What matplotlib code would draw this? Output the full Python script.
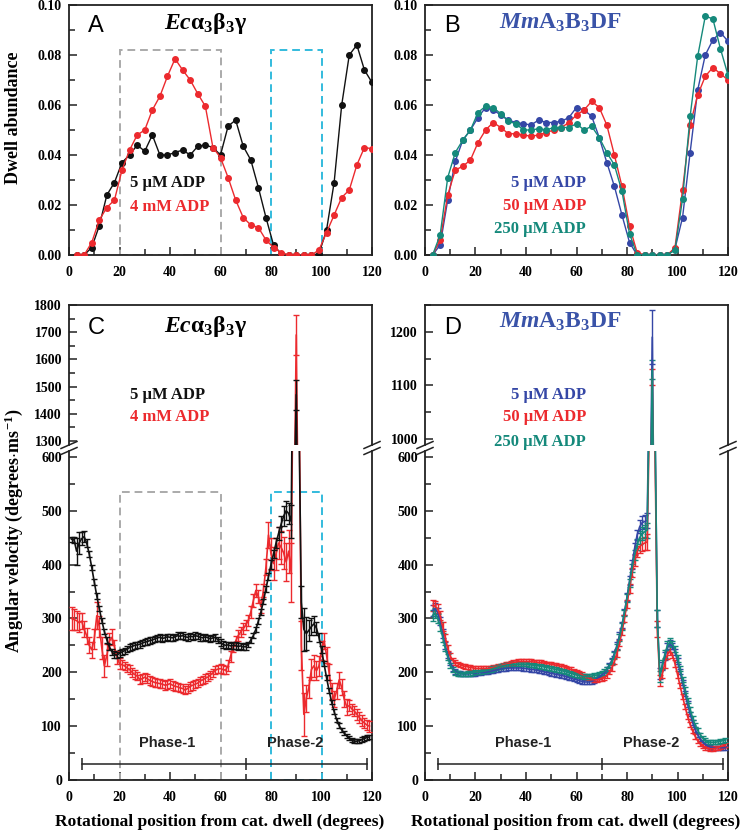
import numpy as np
import matplotlib
matplotlib.use("Agg")
import matplotlib.pyplot as plt
from matplotlib.ticker import MultipleLocator, FormatStrFormatter
from matplotlib.patches import Rectangle

plt.rcParams['font.family'] = ['Liberation Serif', 'DejaVu Serif']
plt.rcParams['font.weight'] = 'bold'
plt.rcParams['mathtext.fontset'] = 'custom'
plt.rcParams['mathtext.rm'] = 'Liberation Serif:bold'
plt.rcParams['mathtext.it'] = 'Liberation Serif:italic:bold'
plt.rcParams['mathtext.bf'] = 'Liberation Serif:bold'

# ---- colours
BLACK = '#111111'
RED = '#ec2a2e'
BLUE = '#3547a6'
TEAL = '#15897b'
TITLE_BLUE = '#3a53a8'

# ---- panel A / B : dwell abundance, every 3 degrees
dwell_x = np.arange(3, 121, 3)
dwell_ec_5uM = [0, 0, 0.003, 0.0117, 0.024, 0.029, 0.037, 0.040, 0.044, 0.0415,
                0.048, 0.040, 0.040, 0.041, 0.042, 0.040, 0.0435, 0.044, 0.043, 0.040,
                0.0515, 0.054, 0.0435, 0.038, 0.027, 0.015, 0.004, 0.0005, 0, 0,
                0, 0, 0.0005, 0.010, 0.029, 0.060, 0.080, 0.084, 0.074, 0.069]
dwell_ec_4mM = [0, 0, 0.005, 0.014, 0.019, 0.022, 0.034, 0.042, 0.048, 0.050,
                0.058, 0.0635, 0.0715, 0.0785, 0.074, 0.070, 0.0645, 0.0595, 0.043, 0.039,
                0.031, 0.022, 0.015, 0.012, 0.011, 0.006, 0.003, 0.001, 0, 0,
                0, 0, 0.002, 0.009, 0.016, 0.023, 0.026, 0.036, 0.043, 0.0425]
dwell_mm_5uM = [0, 0.004, 0.022, 0.0375, 0.046, 0.050, 0.055, 0.059, 0.058, 0.056,
                0.054, 0.053, 0.0525, 0.052, 0.054, 0.053, 0.053, 0.0535, 0.055, 0.059,
                0.058, 0.0555, 0.047, 0.037, 0.0275, 0.016, 0.005, 0, 0, 0,
                0, 0, 0.0025, 0.015, 0.041, 0.066, 0.080, 0.086, 0.089, 0.0855]
dwell_mm_50uM = [0, 0.006, 0.024, 0.034, 0.0355, 0.038, 0.045, 0.050, 0.053, 0.051,
                 0.0485, 0.0485, 0.048, 0.0475, 0.048, 0.049, 0.050, 0.051, 0.053, 0.056,
                 0.058, 0.0615, 0.059, 0.052, 0.040, 0.0275, 0.0115, 0.001, 0, 0,
                 0, 0, 0.003, 0.026, 0.052, 0.064, 0.0715, 0.075, 0.0725, 0.070]
dwell_mm_250uM = [0, 0.008, 0.031, 0.041, 0.046, 0.050, 0.057, 0.0595, 0.059, 0.0565,
                  0.0535, 0.0525, 0.050, 0.050, 0.0505, 0.050, 0.051, 0.051, 0.051, 0.0525,
                  0.050, 0.0515, 0.047, 0.041, 0.036, 0.0255, 0.0085, 0, 0, 0,
                  0, 0, 0.002, 0.0225, 0.0555, 0.0795, 0.0955, 0.0945, 0.0825, 0.072]

# ---- panel C : angular velocity Ec, every degree 1..119
vel_ec_x = np.arange(1, 120)
vel_ec_5uM = [447, 446, 425, 440, 448, 452, 440, 420, 395, 368,
              342, 318, 296, 276, 260, 247, 238, 233, 232, 235,
              238, 240, 243, 246, 248, 250, 251, 252, 254, 256,
              257, 259, 260, 262, 264, 265, 263, 264, 266, 265,
              264, 266, 268, 267, 268, 266, 265, 267, 266, 268,
              267, 265, 264, 266, 264, 262, 264, 265, 260, 255,
              252, 250, 251, 249, 250, 250, 248, 249, 247, 248,
              252, 260, 268, 280, 295, 312, 332, 355, 378, 400,
              420, 440, 458, 475, 490, 500, 495, 480, 1000, 1470,
              700, 330, 280, 272, 278, 285, 290, 282, 265, 242,
              216, 190, 166, 145, 127, 112, 101, 93, 87, 82,
              78, 74, 72, 72, 73, 75, 77, 79, 80]
vel_ec_5uM_err = [5, 5, 25, 20, 12, 10, 8, 5, 5, 5,
                  5, 5, 5, 5, 5, 5, 5, 6, 6, 6,
                  6, 6, 6, 6, 6, 6, 6, 6, 6, 6,
                  6, 6, 6, 6, 6, 6, 6, 6, 6, 6,
                  6, 6, 6, 6, 6, 6, 6, 6, 6, 6,
                  6, 6, 6, 6, 6, 6, 6, 6, 6, 6,
                  6, 6, 6, 6, 6, 6, 6, 6, 6, 6,
                  5, 5, 5, 5, 5, 5, 5, 6, 6, 8,
                  8, 10, 12, 15, 18, 18, 20, 30, 40, 55,
                  40, 30, 40, 30, 20, 15, 15, 12, 8, 6,
                  5, 5, 5, 4, 4, 4, 4, 4, 4, 4,
                  4, 4, 4, 4, 4, 4, 4, 4, 4]
vel_ec_4mM = [300, 298, 296, 292, 295, 280, 268, 250, 242, 262,
              305, 285, 245, 212, 232, 258, 265, 248, 228, 216,
              214, 212, 208, 205, 200, 196, 193, 187, 188, 191,
              188, 185, 183, 181, 180, 179, 178, 176, 177, 179,
              176, 174, 173, 171, 170, 167, 170, 174, 176, 178,
              180, 184, 186, 189, 191, 195, 199, 204, 206, 207,
              205, 204, 212, 230, 247, 258, 268, 275, 281, 288,
              296, 312, 333, 352, 340, 322, 352, 395, 455, 420,
              402, 420, 440, 432, 422, 405, 425, 385, 900, 1690,
              800, 250, 122, 152, 172, 205, 212, 203, 212, 240,
              258, 232, 200, 165, 150, 165, 186, 172, 150, 136,
              138, 132, 128, 122, 116, 110, 106, 102, 100]
vel_ec_4mM_err = [22, 20, 18, 18, 15, 15, 15, 15, 15, 18,
                  25, 20, 20, 20, 20, 15, 15, 12, 12, 10,
                  8, 8, 8, 8, 8, 8, 8, 8, 8, 8,
                  8, 8, 8, 8, 8, 8, 8, 8, 8, 8,
                  8, 8, 8, 8, 8, 8, 8, 8, 8, 8,
                  8, 8, 8, 8, 8, 8, 8, 8, 8, 8,
                  8, 8, 10, 10, 10, 10, 10, 10, 10, 10,
                  10, 12, 12, 12, 12, 12, 12, 15, 25, 30,
                  30, 30, 30, 30, 30, 35, 40, 55, 60, 75,
                  60, 45, 40, 25, 20, 20, 20, 18, 18, 18,
                  15, 15, 15, 15, 15, 15, 15, 15, 15, 15,
                  10, 10, 10, 10, 10, 10, 10, 10, 10]

# ---- panel D : angular velocity Mm, every degree 3..119
vel_mm_x = np.arange(3, 120)
vel_mm_5uM = [315, 318, 312, 295, 272, 250, 232, 218,
              208, 202, 199, 198, 197, 197, 197, 198, 198, 198,
              199, 199, 200, 200, 201, 202, 203, 204, 205, 206,
              207, 207, 208, 208, 208, 208, 208, 208, 207, 207,
              206, 205, 205, 204, 203, 202, 201, 200, 199, 198,
              197, 196, 195, 194, 193, 192, 190, 189, 187, 186,
              185, 183, 182, 182, 182, 183, 185, 188, 191, 195,
              199, 205, 214, 222, 235, 250, 268, 288, 312, 340,
              370, 400, 430, 455, 470, 478, 480, 482, 800, 1190,
              700, 300, 198, 212, 230, 246, 252, 249, 238, 221,
              201, 181, 161, 141, 123, 107, 94, 84, 76, 70,
              66, 63, 61, 60, 60, 60, 60, 60, 60]
vel_mm_5uM_err = [10, 10, 8, 8, 8, 6, 6, 5,
                  5, 5, 4, 4, 4, 4, 4, 4, 4, 4,
                  4, 4, 4, 4, 4, 4, 4, 4, 4, 4,
                  4, 4, 4, 4, 4, 4, 4, 4, 4, 4,
                  4, 4, 4, 4, 4, 4, 4, 4, 4, 4,
                  4, 4, 4, 4, 4, 4, 4, 4, 4, 4,
                  4, 4, 4, 4, 4, 4, 4, 4, 4, 4,
                  4, 4, 4, 5, 5, 6, 6, 6, 6, 8,
                  8, 8, 10, 10, 12, 12, 12, 14, 30, 50,
                  30, 15, 10, 8, 8, 8, 8, 6, 6, 6,
                  5, 5, 5, 5, 4, 4, 4, 4, 4, 4,
                  4, 4, 4, 4, 4, 4, 4, 4, 4]
vel_mm_50uM = [324, 323, 318, 305, 285, 265, 245, 230,
               222, 218, 216, 214, 212, 211, 210, 209, 208, 207,
               207, 207, 207, 207, 207, 208, 209, 210, 211, 212,
               214, 215, 216, 217, 218, 219, 220, 220, 220, 220,
               220, 220, 219, 219, 218, 218, 217, 216, 216, 215,
               214, 213, 212, 211, 210, 208, 206, 205, 203, 201,
               199, 196, 193, 191, 189, 187, 186, 186, 187, 188,
               190, 194, 200, 208, 220, 235, 254, 275, 300, 327,
               356, 385, 408, 425, 433, 438, 440, 442, 700, 1115,
               650, 280, 185, 198, 216, 233, 240, 232, 216, 196,
               175, 155, 136, 118, 103, 91, 81, 73, 67, 63,
               60, 59, 58, 58, 59, 60, 62, 63, 65]
vel_mm_50uM_err = [10, 10, 8, 8, 8, 6, 6, 5,
                   5, 5, 4, 4, 4, 4, 4, 4, 4, 4,
                   4, 4, 4, 4, 4, 4, 4, 4, 4, 4,
                   4, 4, 4, 4, 4, 4, 4, 4, 4, 4,
                   4, 4, 4, 4, 4, 4, 4, 4, 4, 4,
                   4, 4, 4, 4, 4, 4, 4, 4, 4, 4,
                   4, 4, 4, 4, 4, 4, 4, 4, 4, 4,
                   4, 4, 4, 5, 5, 6, 6, 6, 6, 8,
                   8, 8, 10, 10, 12, 12, 12, 14, 20, 15,
                   20, 15, 10, 8, 8, 8, 8, 6, 6, 6,
                   5, 5, 5, 5, 4, 4, 4, 4, 4, 4,
                   4, 4, 4, 4, 4, 4, 4, 4, 4]
vel_mm_250uM = [305, 310, 300, 285, 265, 245, 228, 213,
                205, 200, 198, 197, 197, 197, 198, 198, 199, 200,
                200, 201, 202, 203, 204, 205, 207, 208, 210, 211,
                212, 213, 214, 214, 215, 215, 215, 215, 215, 215,
                214, 214, 213, 212, 212, 211, 210, 209, 208, 207,
                206, 205, 204, 203, 202, 201, 199, 198, 196, 195,
                194, 193, 192, 192, 192, 193, 194, 195, 197, 199,
                202, 206, 212, 220, 232, 247, 265, 285, 310, 338,
                366, 394, 418, 437, 450, 457, 461, 464, 750, 1130,
                700, 300, 192, 214, 234, 250, 256, 253, 243, 226,
                207, 187, 167, 148, 131, 115, 102, 92, 84, 78,
                74, 71, 70, 70, 70, 71, 72, 73, 74]
vel_mm_250uM_err = [10, 10, 8, 8, 8, 6, 6, 5,
                    5, 5, 4, 4, 4, 4, 4, 4, 4, 4,
                    4, 4, 4, 4, 4, 4, 4, 4, 4, 4,
                    4, 4, 4, 4, 4, 4, 4, 4, 4, 4,
                    4, 4, 4, 4, 4, 4, 4, 4, 4, 4,
                    4, 4, 4, 4, 4, 4, 4, 4, 4, 4,
                    4, 4, 4, 4, 4, 4, 4, 4, 4, 4,
                    4, 4, 4, 5, 5, 6, 6, 6, 6, 8,
                    8, 8, 10, 10, 12, 12, 12, 14, 20, 18,
                    20, 15, 10, 8, 8, 8, 8, 6, 6, 6,
                    5, 5, 5, 5, 4, 4, 4, 4, 4, 4,
                    4, 4, 4, 4, 4, 4, 4, 4, 4]

# phase annotation and highlighted windows
phase_edges = [5, 70, 118]
phase_names = ['Phase-1', 'Phase-2']
phase_label_x = [39, 89.5]
window_grey = (20, 60)
window_cyan = (80, 100)

# ---- figure layout (pixel boxes)
W, H = 745, 834
fig = plt.figure(figsize=(W / 100, H / 100), dpi=100)


def box(l, t, r, b):
    return [l / W, 1 - b / H, (r - l) / W, (b - t) / H]


axA = fig.add_axes(box(69, 5, 372, 255))
axB = fig.add_axes(box(425, 5, 728, 255))
axCu = fig.add_axes(box(69, 305, 372, 445))
axCl = fig.add_axes(box(69, 451, 372, 780))
axDu = fig.add_axes(box(425, 305, 728, 445))
axDl = fig.add_axes(box(425, 451, 728, 780))


def style(ax, ymaj, ymin):
    ax.set_xlim(0, 120)
    ax.xaxis.set_major_locator(MultipleLocator(20))
    ax.xaxis.set_minor_locator(MultipleLocator(10))
    ax.yaxis.set_major_locator(MultipleLocator(ymaj))
    ax.yaxis.set_minor_locator(MultipleLocator(ymin))
    ax.tick_params(which='both', direction='in', top=False, right=False,
                   labelsize=10, width=1.1, color='#222222')
    ax.tick_params(which='major', length=6)
    ax.tick_params(which='minor', length=4)
    ax.tick_params(axis='x', pad=8)
    ax.tick_params(axis='y', pad=5)
    for s in ax.spines.values():
        s.set_linewidth(1.3)
        s.set_color('#222222')


for ax in (axA, axB):
    style(ax, 0.02, 0.01)
    ax.set_ylim(0, 0.10)
    ax.yaxis.set_major_formatter(FormatStrFormatter('%.2f'))

for ax in (axCu, axCl, axDu, axDl):
    style(ax, 100, 50)

axCu.set_ylim(1285, 1800)
axDu.set_ylim(989, 1250)
axCl.set_ylim(0, 611)
axDl.set_ylim(0, 611)

for ax in (axCu, axDu):
    ax.spines['bottom'].set_visible(False)
    ax.tick_params(axis='x', which='both', bottom=False, labelbottom=False)
for ax in (axCl, axDl):
    ax.spines['top'].set_visible(False)


def breaks(ax_up, ax_lo):
    for ax, y in ((ax_up, 0), (ax_lo, 1)):
        bb = ax.get_position()
        dx = 8 / (bb.width * W)
        dy = 3.5 / (bb.height * H)
        for x in (0, 1):
            ax.plot([x - dx, x + dx], [y - dy, y + dy], transform=ax.transAxes,
                    color='#222222', lw=1.1, clip_on=False)


breaks(axCu, axCl)
breaks(axDu, axDl)

# ---- panel A
axA.plot(dwell_x, dwell_ec_5uM, '-o', color=BLACK, lw=1, ms=4, zorder=3)
axA.plot(dwell_x, dwell_ec_4mM, '-o', color=RED, lw=1, ms=4, zorder=3)

# ---- panel B
for vals, col in ((dwell_mm_5uM, BLUE), (dwell_mm_50uM, RED), (dwell_mm_250uM, TEAL)):
    axB.plot(dwell_x, vals, '-o', color=col, lw=1, ms=4, zorder=3)

# dashed windows in A and C
for ax, top in ((axA, 0.082), (axCl, 535)):
    for (x0, x1), col in ((window_grey, '#aaaaaa'), (window_cyan, '#33bbdd')):
        ax.add_patch(Rectangle((x0, 0), x1 - x0, top, fill=False, ec=col,
                               lw=1.4, ls=(0, (4, 2.5)), zorder=2))

# ---- panel C
for ax in (axCu, axCl):
    ax.errorbar(vel_ec_x, vel_ec_4mM, yerr=vel_ec_4mM_err, color=RED, lw=1.2,
                elinewidth=1, capsize=2, capthick=1, zorder=3)
    ax.errorbar(vel_ec_x, vel_ec_5uM, yerr=vel_ec_5uM_err, color=BLACK, lw=1.2,
                elinewidth=1, capsize=2, capthick=1, zorder=4)

# ---- panel D
for ax in (axDu, axDl):
    for vals, err, col in ((vel_mm_5uM, vel_mm_5uM_err, BLUE),
                           (vel_mm_50uM, vel_mm_50uM_err, RED),
                           (vel_mm_250uM, vel_mm_250uM_err, TEAL)):
        ax.errorbar(vel_mm_x, vals, yerr=err, color=col, lw=1.2,
                    elinewidth=1, capsize=2, capthick=1, zorder=3)

# phase bars
for ax in (axCl, axDl):
    ax.plot([phase_edges[0], phase_edges[-1]], [30, 30], color='#222222', lw=1.1)
    ax.plot(phase_edges, [30] * len(phase_edges), ls='none', marker='|', ms=9,
            mew=1.1, color='#222222')
    for name, px in zip(phase_names, phase_label_x):
        ax.text(px, 68, name, ha='center', va='center', fontsize=10.5,
                family='Liberation Sans', weight='bold', color='#222222')

# panel letters and titles
title_ec = r'$\mathit{Ec}\mathbf{\alpha_3\beta_3\gamma}$'
title_mm = r'$\mathit{Mm}\mathbf{A_3B_3DF}$'
for ax, letter, ty in ((axA, 'A', 0.916), (axB, 'B', 0.916), (axCu, 'C', 0.836), (axDu, 'D', 0.836)):
    ax.text(0.09, ty, letter, transform=ax.transAxes, ha='center', va='center',
            fontsize=17, family='Liberation Sans', weight='normal')
axA.text(0.449, 0.925, title_ec, transform=axA.transAxes, ha='center', va='center', fontsize=17)
axCu.text(0.449, 0.845, title_ec, transform=axCu.transAxes, ha='center', va='center', fontsize=17)
axB.text(0.446, 0.93, title_mm, transform=axB.transAxes, ha='center', va='center',
         fontsize=17, color=TITLE_BLUE)
axDu.text(0.446, 0.88, title_mm, transform=axDu.transAxes, ha='center', va='center',
          fontsize=17, color=TITLE_BLUE)

# legends as coloured text
for ax, ys in ((axA, (0.287, 0.191)), (axCu, (0.357, 0.2))):
    ax.text(0.201, ys[0], '5 µM ADP', transform=ax.transAxes, ha='left', va='center',
            fontsize=12, color=BLACK)
    ax.text(0.201, ys[1], '4 mM ADP', transform=ax.transAxes, ha='left', va='center',
            fontsize=12, color=RED)
for ax, ys in ((axB, (0.287, 0.195, 0.104)), (axDu, (0.357, 0.2, 0.021))):
    for txt, y, col in zip(('5 µM ADP', '50 µM ADP', '250 µM ADP'), ys, (BLUE, RED, TEAL)):
        ax.text(0.531, y, txt, transform=ax.transAxes, ha='right', va='center',
                fontsize=12, color=col)

# axis labels
fig.text(14 / W, 1 - 118 / H, 'Dwell abundance', rotation=90, ha='center', va='center',
         fontsize=13)
fig.text(14 / W, 1 - 531 / H, r'Angular velocity (degrees$\cdot$ms$^{-1}$)', rotation=90,
         ha='center', va='center', fontsize=13)
for cx in (220, 576):
    fig.text(cx / W, 1 - 822 / H, 'Rotational position from cat. dwell (degrees)',
             ha='center', va='center', fontsize=12.5)

fig.savefig('out.png', dpi=100)
